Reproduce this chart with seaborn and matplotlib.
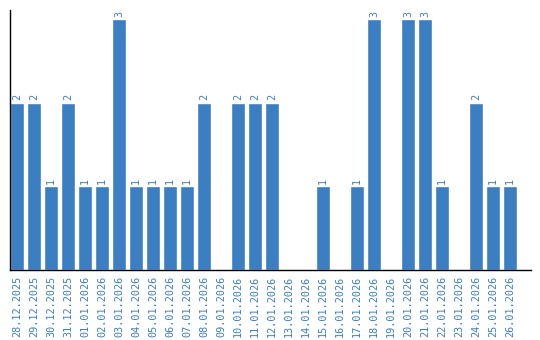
import matplotlib
matplotlib.use("Agg")
import matplotlib.pyplot as plt
import seaborn as sns
import pandas as pd

dates = ["28.12.2025", "29.12.2025", "30.12.2025", "31.12.2025", "01.01.2026",
         "02.01.2026", "03.01.2026", "04.01.2026", "05.01.2026", "06.01.2026",
         "07.01.2026", "08.01.2026", "09.01.2026", "10.01.2026", "11.01.2026",
         "12.01.2026", "13.01.2026", "14.01.2026", "15.01.2026", "16.01.2026",
         "17.01.2026", "18.01.2026", "19.01.2026", "20.01.2026", "21.01.2026",
         "22.01.2026", "23.01.2026", "24.01.2026", "25.01.2026", "26.01.2026"]
counts = [2, 2, 1, 2, 1, 1, 3, 1, 1, 1,
          1, 2, 0, 2, 2, 2, 0, 0, 1, 0,
          1, 3, 0, 3, 3, 1, 0, 2, 1, 1]

BLUE = "#3b7ec2"

sns.set_theme(style="white")
plt.rcParams["font.family"] = ["DejaVu Sans Mono"]

df = pd.DataFrame({"date": dates, "count": counts})

fig = plt.figure(figsize=(5.4, 3.4), dpi=100)
ax = fig.add_axes([10 / 540, 70 / 340, 521 / 540, 260 / 340])

sns.barplot(data=df, x="date", y="count", color=BLUE, saturation=1,
            width=0.82, ax=ax, order=dates)

for i, v in enumerate(counts):
    if v > 0:
        ax.text(i, v + 0.03, str(v), rotation=90, ha="center", va="bottom",
                fontsize=7.3, color=BLUE)

ax.set_xlim(-0.41, 30.24)
ax.set_ylim(0, 3.11)
ax.set_xlabel("")
ax.set_ylabel("")
ax.set_yticks([])
ax.tick_params(axis="x", length=0, pad=4, labelsize=7.3, labelcolor=BLUE)
for lab in ax.get_xticklabels():
    lab.set_rotation(90)
for s in ["top", "right"]:
    ax.spines[s].set_visible(False)
for s in ["left", "bottom"]:
    ax.spines[s].set_color("black")
    ax.spines[s].set_linewidth(1)

fig.savefig("out.png", dpi=100)
